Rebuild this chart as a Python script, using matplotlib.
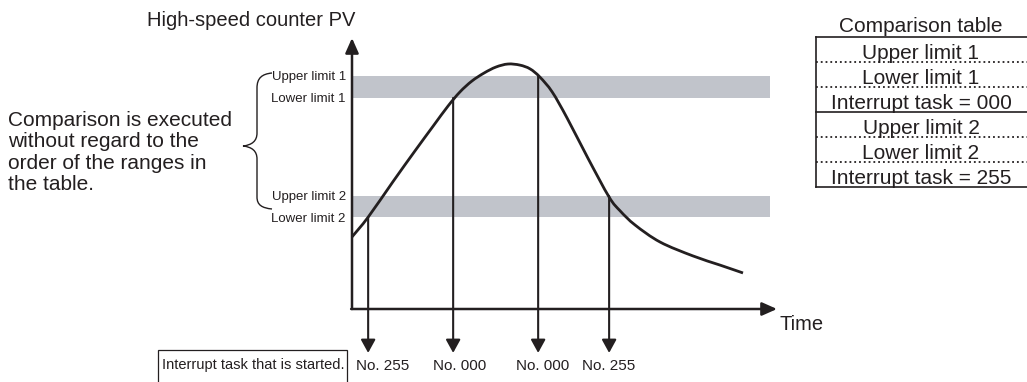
import matplotlib
matplotlib.use("Agg")
import matplotlib.pyplot as plt
from matplotlib.path import Path
from matplotlib.patches import PathPatch, Rectangle
from matplotlib.lines import Line2D

plt.rcParams['font.family'] = ['Liberation Sans', 'DejaVu Sans']

# counter value over time (time 0..100, PV 0..100)
time = [0.0, 3.8, 9.6, 14.8, 19.1, 22.6, 25.4, 28.2, 31.1, 33.9, 36.7, 39.5,
        41.9, 44.2, 47.1, 50.6, 55.5, 60.5, 63.1, 66.6, 72.5, 80.2, 86.6, 92.0]
pv = [26.6, 33.9, 46.9, 58.3, 67.5, 74.9, 80.1, 84.1, 87.1, 89.3, 90.4, 90.0,
      88.6, 85.6, 80.1, 70.5, 55.7, 41.3, 36.2, 31.0, 24.7, 19.6, 16.2, 13.3]

upper_limits = [86.0, 41.7]
lower_limits = [77.9, 33.9]
upper_labels = ['Upper limit 1', 'Upper limit 2']
lower_labels = ['Lower limit 1', 'Lower limit 2']

# where the curve enters a range -> interrupt task started
cross_times = [3.8, 23.8, 43.8, 60.5]
cross_pv = [33.9, 77.9, 86.0, 41.7]
task_labels = ['No. 255', 'No. 000', 'No. 000', 'No. 255']
label_dx = [10.5, 5, 3, 0]  # points, label nudge right of arrow

table_rows = ['Upper limit 1', 'Lower limit 1', 'Interrupt task = 000',
              'Upper limit 2', 'Lower limit 2', 'Interrupt task = 255']
row_styles = [':', ':', '-', ':', ':', '-']

note = ('Comparison is executed\nwithout regard to the\n'
        'order of the ranges in\nthe table.')

W, H = 1027, 382
ink = '#231f20'
band_col = '#c1c4cb'


def fx(x):
    return x / W


def fy(y):
    return 1 - y / H


def smooth_path(xs, ys):
    # catmull-rom through the points, drawn as cubic beziers
    pts = list(zip(xs, ys))
    verts = [pts[0]]
    codes = [Path.MOVETO]
    n = len(pts)
    for i in range(n - 1):
        p0 = pts[max(i - 1, 0)]
        p1 = pts[i]
        p2 = pts[i + 1]
        p3 = pts[min(i + 2, n - 1)]
        c1 = (p1[0] + (p2[0] - p0[0]) / 6, p1[1] + (p2[1] - p0[1]) / 6)
        c2 = (p2[0] - (p3[0] - p1[0]) / 6, p2[1] - (p3[1] - p1[1]) / 6)
        verts += [c1, c2, p2]
        codes += [Path.CURVE4] * 3
    return Path(verts, codes)


fig = plt.figure(figsize=(W / 100, H / 100), dpi=100)
fig.patch.set_facecolor('white')

# plot area: origin at (352, 309) px, axis tips at x=777 / y=38
ax = fig.add_axes([fx(352), fy(309), (777 - 352) / W, (309 - 38) / H])
ax.set_xlim(0, 100)
ax.set_ylim(0, 100)
ax.axis('off')

band_end = 98.4
for lo, hi in zip(lower_limits, upper_limits):
    ax.fill_between([0, band_end], lo, hi, color=band_col, lw=0, zorder=1)

ax.add_patch(PathPatch(smooth_path(time, pv), fill=False, edgecolor=ink,
                       lw=2.0, zorder=4, clip_on=False))

# axes with arrows
arrow_kw = dict(arrowstyle='-|>,head_length=0.45,head_width=0.2',
                color=ink, lw=1.8, shrinkA=0, shrinkB=0, mutation_scale=20)
ax.annotate('', xy=(0, 100), xytext=(0, 0), arrowprops=arrow_kw,
            annotation_clip=False, zorder=5)
ax.annotate('', xy=(100, 0), xytext=(-0.2, 0), arrowprops=arrow_kw,
            annotation_clip=False, zorder=5)

# interrupt arrows
drop_kw = dict(arrowstyle='-|>,head_length=0.4,head_width=0.22',
               color=ink, lw=1.5, shrinkA=0, shrinkB=0, mutation_scale=20)
arrow_bottom = -16.2
for t, p, lab, dx in zip(cross_times, cross_pv, task_labels, label_dx):
    ax.annotate('', xy=(t, arrow_bottom), xytext=(t, p), arrowprops=drop_kw,
                annotation_clip=False, zorder=3)
    ax.annotate(lab, xy=(t, arrow_bottom), xytext=(dx, -9.5),
                textcoords='offset points', ha='center', va='center',
                fontsize=11, color=ink, annotation_clip=False)

# limit labels left of the axis
for lab, val in zip(upper_labels + lower_labels, upper_limits + lower_limits):
    ax.annotate(lab, xy=(0, val), xytext=(-4.5, -1), textcoords='offset points',
                ha='right', va='center', fontsize=9.5, color=ink,
                annotation_clip=False)

# brace
bp = [(272, 73), (262, 74), (257, 78), (257, 88),
      (257, 133),
      (257, 141), (252, 145), (243, 146),
      (252, 147), (257, 151), (257, 159),
      (257, 197),
      (257, 205), (262, 208), (272, 209)]
codes = [Path.MOVETO, Path.CURVE4, Path.CURVE4, Path.CURVE4, Path.LINETO,
         Path.CURVE4, Path.CURVE4, Path.CURVE4, Path.CURVE4, Path.CURVE4,
         Path.CURVE4, Path.LINETO, Path.CURVE4, Path.CURVE4, Path.CURVE4]
brace = Path([(fx(x), fy(y)) for x, y in bp], codes)
fig.patches.append(PathPatch(brace, transform=fig.transFigure, fill=False,
                             edgecolor=ink, lw=1.0))

fig.text(fx(8), fy(111), note, ha='left', va='top', fontsize=15, color=ink,
         linespacing=1.16)

fig.text(fx(147), fy(20), 'High-speed counter PV', ha='left', va='center',
         fontsize=14.5, color=ink)
fig.text(fx(780), fy(325), 'Time', ha='left', va='center', fontsize=14.5,
         color=ink)

# comparison table
tl, tr = 816, 1027
row_tops = [37, 62, 87, 112.5, 137, 162]
row_h = 24.8
fig.text(fx(921), fy(32), 'Comparison table', ha='center', va='baseline',
         fontsize=15, color=ink)
fig.lines.append(Line2D([fx(tl), fx(tr)], [fy(37), fy(37)], color=ink, lw=1.2,
                        transform=fig.transFigure))
for top, txt, ls in zip(row_tops, table_rows, row_styles):
    bot = top + row_h
    fig.text(fx(921), fy(bot - 3), txt, ha='center', va='baseline',
             fontsize=15, color=ink, zorder=2)
    fig.lines.append(Line2D([fx(tl), fx(tr)], [fy(bot), fy(bot)], color=ink,
                            lw=1.2 if ls == '-' else 1.3, ls=ls,
                            transform=fig.transFigure, zorder=3))
fig.lines.append(Line2D([fx(tl), fx(tl)], [fy(37), fy(186.5)], color=ink,
                        lw=1.2, transform=fig.transFigure))

# note box at bottom left
bt = fig.text(fx(344), fy(365), 'Interrupt task that is started.', ha='right',
              va='center', fontsize=10.5, color=ink)
fig.canvas.draw()
bb = bt.get_window_extent()
fig.patches.append(Rectangle((bb.x0 - 4, -5), bb.width + 7, (H - 350) + 5,
                             transform=None, fill=False, edgecolor=ink,
                             lw=0.9))

fig.savefig('out.png', dpi=100, facecolor='white')
